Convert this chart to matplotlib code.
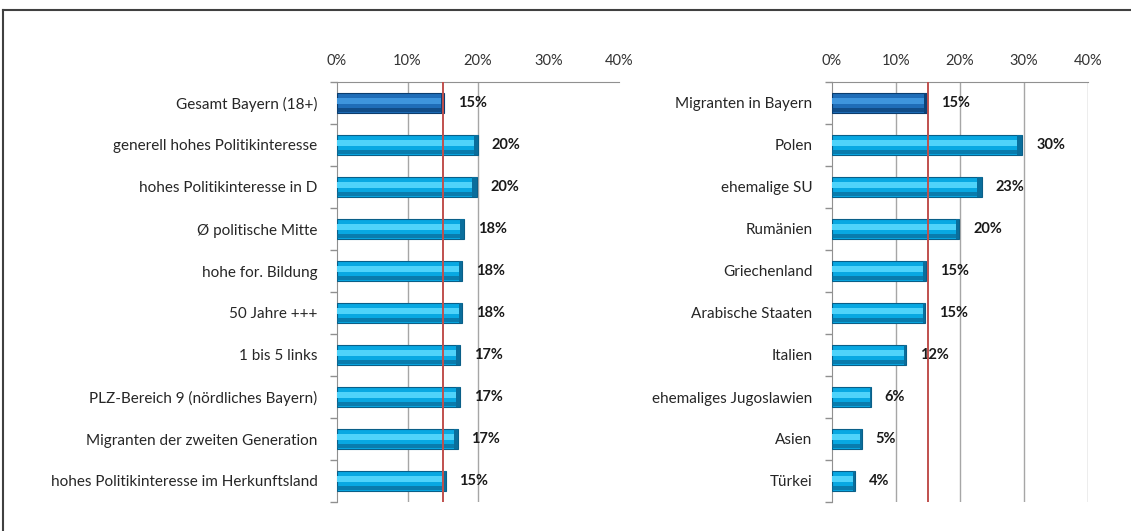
import matplotlib
matplotlib.use("Agg")
import matplotlib.pyplot as plt
from matplotlib.lines import Line2D
import numpy as np

plt.rcParams['font.family'] = ['Lato', 'DejaVu Sans']

left_labels = ["Gesamt Bayern (18+)", "generell hohes Politikinteresse",
               "hohes Politikinteresse in D", "Ø politische Mitte",
               "hohe for. Bildung", "50 Jahre +++", "1 bis 5 links",
               "PLZ-Bereich 9 (nördliches Bayern)",
               "Migranten der zweiten Generation",
               "hohes Politikinteresse im Herkunftsland"]
left_values = [15.2, 20.0, 19.8, 18.0, 17.8, 17.8, 17.4, 17.4, 17.1, 15.4]
left_text = ["15%", "20%", "20%", "18%", "18%", "18%", "17%", "17%", "17%", "15%"]

right_labels = ["Migranten in Bayern", "Polen", "ehemalige SU", "Rumänien",
                "Griechenland", "Arabische Staaten", "Italien",
                "ehemaliges Jugoslawien", "Asien", "Türkei"]
right_values = [14.8, 29.7, 23.4, 19.9, 14.7, 14.6, 11.6, 6.1, 4.7, 3.6]
right_text = ["15%", "30%", "23%", "20%", "15%", "15%", "12%", "6%", "5%", "4%"]

ref_line = 15
xticks = [0, 10, 20, 30, 40]

W, H = 1131, 531
fig = plt.figure(figsize=(W / 100, H / 100), dpi=100)
fig.patch.set_facecolor('white')

# frame lines
fig.add_artist(Line2D([3 / W, 3 / W], [0, 1 - 10 / H], color='#404040', lw=1.5))
fig.add_artist(Line2D([3 / W, 1], [1 - 10 / H, 1 - 10 / H], color='#404040', lw=1.5))


def draw_panel(ax, labels, values, texts, grid_ticks):
    n = len(labels)
    y = np.arange(n)
    h = 0.48
    for i, v in enumerate(values):
        if i == 0:
            base, light, dark, edge = '#1F6DB8', '#3E95DD', '#0D4378', '#0B3D6E'
        else:
            base, light, dark, edge = '#08A8E2', '#4FD3FA', '#0A6E9C', '#0A5F88'
        ax.barh(y[i], v, height=h, color=base, edgecolor=edge, lw=0.8, zorder=3)
        ax.barh(y[i] - h * 0.12, v, height=h * 0.30, color=light, lw=0, zorder=4)
        ax.barh(y[i] + h * 0.36, v, height=h * 0.22, color=dark, lw=0, alpha=0.75, zorder=4)
        cap = v * 0.03 if v > 5 else 0.25
        ax.barh(y[i], cap, left=v - cap, height=h, color=dark, lw=0, zorder=5)
        ax.annotate(texts[i], xy=(v, y[i]), xytext=(10, 0), textcoords='offset points',
                    ha='left', va='center', fontsize=10.5, fontweight='bold',
                    color='#1a1a1a', zorder=6)
    ax.axvline(ref_line, color='#C0504D', lw=1.4, zorder=7)
    for g in grid_ticks:
        ax.axvline(g, color='#A6A6A6', lw=1.0, zorder=1)
    ax.set_xlim(0, 40)
    ax.set_ylim(n - 0.5, -0.5)
    ax.set_xticks(xticks)
    ax.set_xticklabels([f"{t}%" for t in xticks])
    ax.xaxis.tick_top()
    ax.tick_params(axis='x', length=0, pad=10, labelsize=10.5, labelcolor='#333333')
    ax.set_yticks(y)
    ax.set_yticklabels(labels)
    ax.tick_params(axis='y', which='major', length=0, pad=14, labelsize=11, labelcolor='#262626')
    ax.set_yticks(np.arange(-0.5, n, 1), minor=True)
    ax.tick_params(axis='y', which='minor', length=5, color='#909090', width=1)
    for s in ['right', 'bottom']:
        ax.spines[s].set_visible(False)
    ax.spines['top'].set_color('#909090')
    ax.spines['left'].set_color('#909090')
    ax.set_facecolor('none')


ax1 = fig.add_axes([337 / W, 1 - 502 / H, 282 / W, 420 / H])
draw_panel(ax1, left_labels, left_values, left_text, [10, 20])
ax2 = fig.add_axes([831.7 / W, 1 - 502 / H, 256.6 / W, 420 / H])
draw_panel(ax2, right_labels, right_values, right_text, [10, 20, 30, 40])

fig.savefig("out.png", dpi=100)
